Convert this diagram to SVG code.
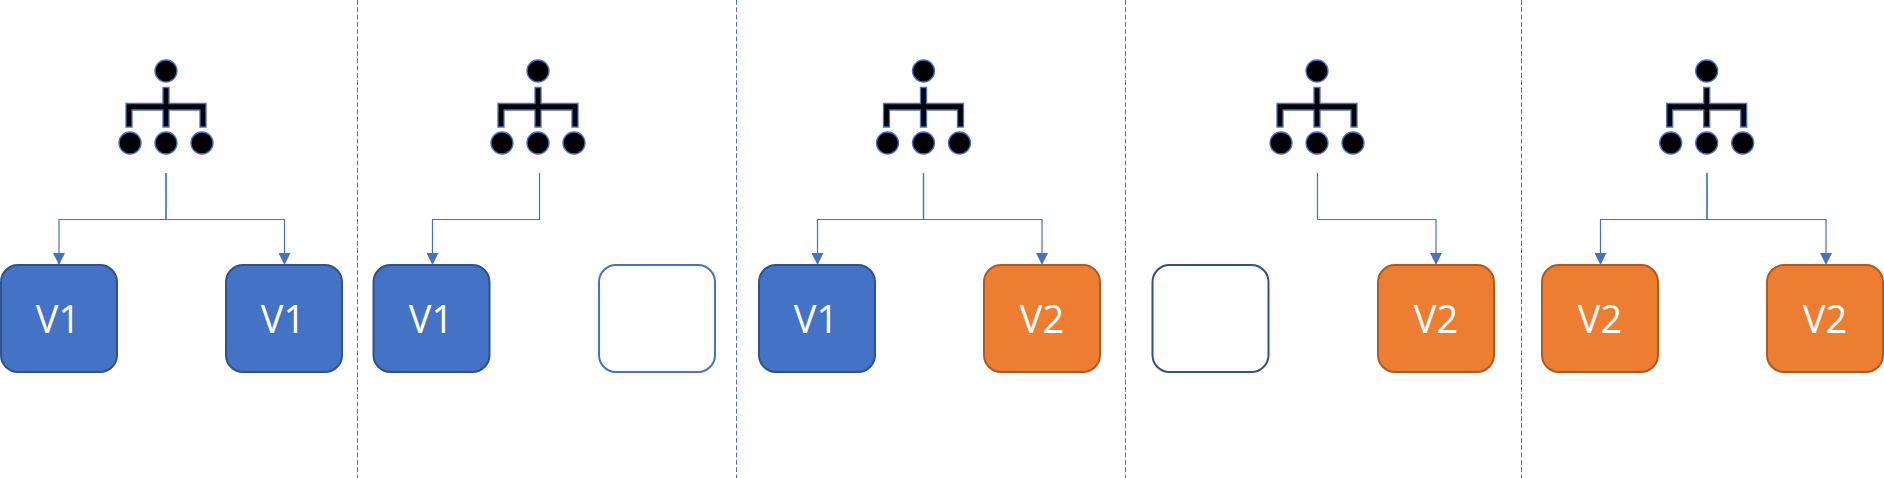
<svg xmlns="http://www.w3.org/2000/svg" width="1884" height="478" viewBox="0 0 1884 478">
<style>
.div{stroke:#4472c4;stroke-width:1;stroke-dasharray:4.800 2.500;fill:none}
.con{stroke:#4472c4;stroke-width:1.2;fill:none}
.box{stroke-width:2}
.blue{fill:#4472c4;stroke:#2f528f}
.orange{fill:#ed7d31;stroke:#ae5a21}
.blank{fill:#fff;stroke:#4472c4}
.blank2{fill:#fff;stroke:#2f528f}
.lbl{font-family:"Open Sans","Noto Sans","Liberation Sans",sans-serif;font-weight:400;font-size:38px;fill:#fff;text-anchor:middle}
.ic{fill:#000;stroke:#4472c4;stroke-width:1.3}
</style>
<defs>
<marker id="arr" markerUnits="userSpaceOnUse" markerWidth="12" markerHeight="12" refX="12" refY="6" orient="auto"><path d="M0 0L12 6L0 12z" fill="#4472c4"/></marker>
<g id="icon">
<circle class="ic" cx="0" cy="71" r="11"/>
<circle class="ic" cx="-36" cy="143" r="11"/>
<circle class="ic" cx="0" cy="143" r="11"/>
<circle class="ic" cx="36" cy="143" r="11"/>
<path class="ic" d="M-3 87.500H3V103.500H40V127H34V110H3V127H-3V110H-34V127H-40V103.500H-3z"/>
</g>
</defs>
<g id="dividers">
<line class="div" x1="357.500" y1="0" x2="357.500" y2="478"/>
<line class="div" x1="736.500" y1="0" x2="736.500" y2="478"/>
<line class="div" x1="1125.500" y1="0" x2="1125.500" y2="478"/>
<line class="div" x1="1521.500" y1="0" x2="1521.500" y2="478"/>
</g>
<g id="connectors">
<path class="con" marker-end="url(#arr)" d="M166 173V219.500H59V265"/>
<path class="con" marker-end="url(#arr)" d="M166 173V219.500H284.500V265"/>
<path class="con" marker-end="url(#arr)" d="M539.500 173V219.500H432.500V265"/>
<path class="con" marker-end="url(#arr)" d="M923.500 173V219.500H817.500V265"/>
<path class="con" marker-end="url(#arr)" d="M923.500 173V219.500H1042V265"/>
<path class="con" marker-end="url(#arr)" d="M1317.500 173V219.500H1436V265"/>
<path class="con" marker-end="url(#arr)" d="M1707 173V219.500H1600.500V265"/>
<path class="con" marker-end="url(#arr)" d="M1707 173V219.500H1826V265"/>
</g>
<g id="icon-1"><use href="#icon" x="166"/></g>
<g id="icon-2"><use href="#icon" x="538"/></g>
<g id="icon-3"><use href="#icon" x="923.500"/></g>
<g id="icon-4"><use href="#icon" x="1317"/></g>
<g id="icon-5"><use href="#icon" x="1706.700"/></g>
<g id="box-1"><rect class="box blue" x="1" y="265" width="116" height="107" rx="17"/><text class="lbl" x="58" y="332.500">V1</text></g>
<g id="box-2"><rect class="box blue" x="226" y="265" width="116" height="107" rx="17"/><text class="lbl" x="283" y="332.500">V1</text></g>
<g id="box-3"><rect class="box blue" x="373.500" y="265" width="116" height="107" rx="17"/><text class="lbl" x="431" y="332.500">V1</text></g>
<g id="box-4"><rect class="box blank" x="599" y="265" width="116" height="107" rx="17"/></g>
<g id="box-5"><rect class="box blue" x="759" y="265" width="116" height="107" rx="17"/><text class="lbl" x="816" y="332.500">V1</text></g>
<g id="box-6"><rect class="box orange" x="984" y="265" width="116" height="107" rx="17"/><text class="lbl" x="1042" y="332.500">V2</text></g>
<g id="box-7"><rect class="box blank2" x="1152.500" y="265" width="116" height="107" rx="17"/></g>
<g id="box-8"><rect class="box orange" x="1378" y="265" width="116" height="107" rx="17"/><text class="lbl" x="1436" y="332.500">V2</text></g>
<g id="box-9"><rect class="box orange" x="1542" y="265" width="116" height="107" rx="17"/><text class="lbl" x="1600" y="332.500">V2</text></g>
<g id="box-10"><rect class="box orange" x="1767" y="265" width="116" height="107" rx="17"/><text class="lbl" x="1825" y="332.500">V2</text></g>
</svg>
